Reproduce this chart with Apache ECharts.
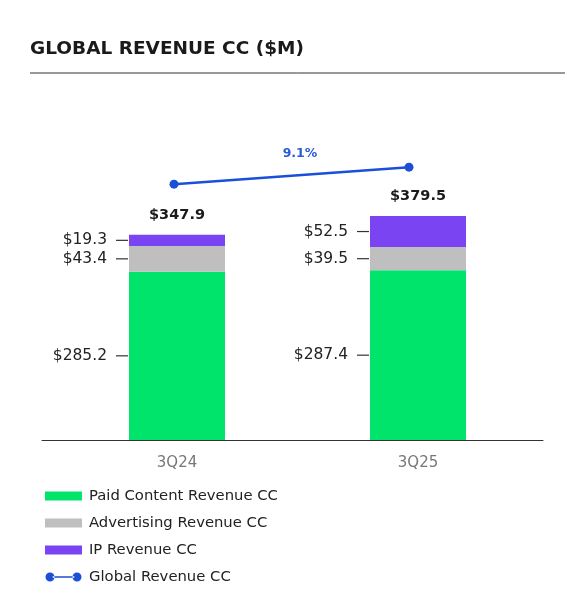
<!DOCTYPE html>
<html>
<head>
<meta charset="utf-8">
<script src="https://cdn.jsdelivr.net/npm/echarts@6/dist/echarts.min.js"></script>
<style>
html,body{margin:0;padding:0;background:#fff;}
#chart{width:567px;height:613px;}
</style>
</head>
<body>
<div id="chart"></div>
<script>
const categories = ['3Q24', '3Q25'];
const paidContent = [285.2, 287.4];
const advertising = [43.4, 39.5];
const ipRevenue = [19.3, 52.5];
const globalRevenue = [347.9, 379.5];
const growthLabel = '9.1%';
const seriesNames = ['Paid Content Revenue CC', 'Advertising Revenue CC', 'IP Revenue CC', 'Global Revenue CC'];

const FONT = 'DejaVu Sans';
const chart = echarts.init(document.getElementById('chart'), null, {renderer: 'canvas'});

function sideLabel() {
  return {
    show: true,
    position: 'left',
    distance: 1,
    formatter: p => '{v|$' + p.value.toFixed(1) + '}{d| }',
    rich: {
      v: {fontSize: 15.5, color: '#222', fontFamily: FONT, padding: [0, 9, 0, 0]},
      d: {width: 12, height: 1.2, backgroundColor: '#333', fontSize: 1}
    }
  };
}

const option = {
  animation: false,
  backgroundColor: '#fff',
  textStyle: {fontFamily: FONT},
  title: [
    {text: 'GLOBAL REVENUE CC ($M)', left: 25, top: 35,
     textStyle: {fontSize: 18.5, fontWeight: 'bold', color: '#1a1a1a', fontFamily: FONT}},
    {text: growthLabel, left: 295, top: 142, textAlign: 'center',
     textStyle: {fontSize: 12.5, fontWeight: 'bold', color: '#2a5bd7', fontFamily: FONT}}
  ],
  graphic: [
    {type: 'line', shape: {x1: 30, y1: 73, x2: 565, y2: 73}, style: {stroke: '#333', lineWidth: 1}}
  ],
  legend: {
    orient: 'vertical',
    left: 40,
    top: 482,
    itemWidth: 37,
    itemHeight: 9,
    itemGap: 9,
    textStyle: {fontSize: 14.8, color: '#222', fontFamily: FONT, lineHeight: 18, padding: [0, 0, 0, 2]},
    data: [
      {name: seriesNames[0], icon: 'rect'},
      {name: seriesNames[1], icon: 'rect'},
      {name: seriesNames[2], icon: 'rect'},
      {name: seriesNames[3], icon: 'path://M0,5a5,5 0 1,0 10,0a5,5 0 1,0 -10,0ZM8,4.2L32,4.2L32,5.8L8,5.8ZM30,5a5,5 0 1,0 10,0a5,5 0 1,0 -10,0Z'}
    ]
  },
  grid: [
    {left: 56.5, right: 28.5, top: 100, bottom: 173},
    {left: 42, right: 24, top: 140, bottom: 173}
  ],
  xAxis: [
    {type: 'category', gridIndex: 0, data: categories,
     axisLine: {show: false}, axisTick: {show: false},
     axisLabel: {fontSize: 15, color: '#777', margin: 16, fontFamily: FONT}},
    {type: 'value', gridIndex: 1, min: -0.5617, max: 1.5702,
     axisLine: {show: true, onZero: false, lineStyle: {color: '#333', width: 1}},
     axisTick: {show: false}, axisLabel: {show: false}, splitLine: {show: false}}
  ],
  yAxis: [
    {type: 'value', gridIndex: 0, min: 0, max: 576, show: false, splitLine: {show: false}},
    {type: 'value', gridIndex: 1, min: -128, max: 430, show: false, splitLine: {show: false}}
  ],
  series: [
    {name: seriesNames[0], type: 'bar', stack: 'rev', xAxisIndex: 0, yAxisIndex: 0,
     barWidth: 96, data: paidContent, itemStyle: {color: '#00e46c'}, label: sideLabel()},
    {name: seriesNames[1], type: 'bar', stack: 'rev', xAxisIndex: 0, yAxisIndex: 0,
     barWidth: 96, data: advertising, itemStyle: {color: '#bfbfbf'}, label: sideLabel()},
    {name: seriesNames[2], type: 'bar', stack: 'rev', xAxisIndex: 0, yAxisIndex: 0,
     barWidth: 96, data: ipRevenue, itemStyle: {color: '#7b44f2'}, label: sideLabel()},
    {name: 'total', type: 'bar', xAxisIndex: 0, yAxisIndex: 0, barWidth: 96, barGap: '-100%',
     data: globalRevenue, itemStyle: {color: 'rgba(0,0,0,0)'}, silent: true, z: 1,
     label: {show: true, position: 'top', distance: 12,
       formatter: p => '$' + p.value.toFixed(1),
       fontSize: 14.5, fontWeight: 'bold', color: '#1a1a1a', fontFamily: FONT}},
    {name: seriesNames[3], type: 'line', xAxisIndex: 1, yAxisIndex: 1,
     data: globalRevenue.map((v, i) => [i, v]),
     symbol: 'circle', symbolSize: 9,
     lineStyle: {color: '#1c4fd8', width: 2.5},
     itemStyle: {color: '#1c4fd8'}}
  ]
};
chart.setOption(option);
</script>
</body>
</html>
